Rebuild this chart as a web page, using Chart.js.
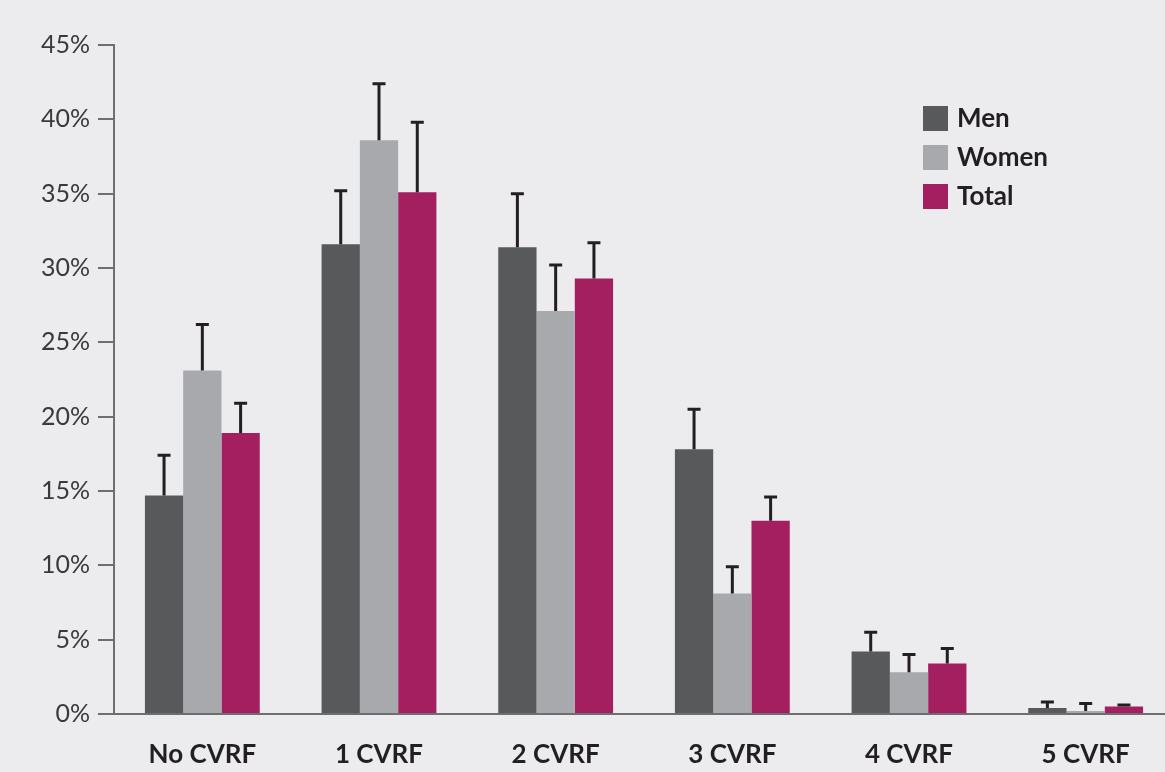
<!DOCTYPE html>
<html>
<head>
<meta charset="utf-8">
<script src="https://cdn.jsdelivr.net/npm/chart.js@4/dist/chart.umd.min.js"></script>
<style>
  html, body { margin: 0; padding: 0; background: #ececef; overflow: hidden; }
  #wrap { position: relative; width: 1174px; height: 772px; }
  #legend { position: absolute; left: 923px; top: 106px; font-family: Lato, sans-serif; font-weight: 700; font-size: 26px; color: #231f20; }
  #legend div { height: 39px; display: flex; align-items: flex-start; }
  #legend span.sw { display: inline-block; width: 25px; height: 25px; margin-right: 9px; }
  #legend span.tx { line-height: 25px; margin-top: -1px; }
</style>
</head>
<body>
<div id="wrap">
  <canvas id="cvrfChart" width="1174" height="772"></canvas>
  <div id="legend"></div>
</div>
<script>
// data
const categories = ['No CVRF', '1 CVRF', '2 CVRF', '3 CVRF', '4 CVRF', '5 CVRF'];
const menValues = [14.7, 31.6, 31.4, 17.8, 4.2, 0.4];
const womenValues = [23.1, 38.6, 27.1, 8.1, 2.8, 0.2];
const totalValues = [18.9, 35.1, 29.3, 13.0, 3.4, 0.5];
// upper end of the error bars
const menUpper = [17.4, 35.2, 35.0, 20.5, 5.5, 0.8];
const womenUpper = [26.2, 42.4, 30.2, 9.9, 4.0, 0.7];
const totalUpper = [20.9, 39.8, 31.7, 14.6, 4.4, 0.6];
const yTicks = [0, 5, 10, 15, 20, 25, 30, 35, 40, 45];

const colors = { men: '#58595b', women: '#a7a9ac', total: '#a31f5f' };

// legend
const legend = document.getElementById('legend');
[['Men', colors.men], ['Women', colors.women], ['Total', colors.total]].forEach(function(it) {
  const row = document.createElement('div');
  row.innerHTML = '<span class="sw" style="background:' + it[1] + '"></span><span class="tx">' + it[0] + '</span>';
  legend.appendChild(row);
});

// error bars drawn above each bar
const errorBars = {
  id: 'errorBars',
  afterDatasetsDraw(chart) {
    const ctx = chart.ctx;
    const y = chart.scales.y;
    ctx.save();
    ctx.strokeStyle = '#231f20';
    ctx.lineWidth = 3;
    chart.data.datasets.forEach(function(ds, i) {
      const meta = chart.getDatasetMeta(i);
      meta.data.forEach(function(bar, j) {
        const top = y.getPixelForValue(ds.upper[j]);
        ctx.beginPath();
        ctx.moveTo(bar.x, bar.y);
        ctx.lineTo(bar.x, top);
        ctx.moveTo(bar.x - 6.5, top);
        ctx.lineTo(bar.x + 6.5, top);
        ctx.stroke();
      });
    });
    ctx.restore();
  }
};

const ctx = document.getElementById('cvrfChart').getContext('2d');
const chart = new Chart(ctx, {
  type: 'bar',
  data: {
    labels: categories,
    datasets: [
      { label: 'Men', data: menValues, upper: menUpper, backgroundColor: colors.men },
      { label: 'Women', data: womenValues, upper: womenUpper, backgroundColor: colors.women },
      { label: 'Total', data: totalValues, upper: totalUpper, backgroundColor: colors.total }
    ]
  },
  options: {
    responsive: false,
    animation: false,
    devicePixelRatio: 1,
    layout: { padding: { top: 45, left: 0, right: 0, bottom: 0 } },
    datasets: { bar: { categoryPercentage: 0.65, barPercentage: 1 } },
    plugins: { legend: { display: false }, tooltip: { enabled: false } },
    scales: {
      x: {
        grid: { display: false },
        border: { display: true, color: '#6d6e71', width: 2 },
        ticks: { color: '#231f20', padding: 17, font: { family: 'Lato', weight: 'bold', size: 26 } },
        afterFit: function(s) { s.height = 58; }
      },
      y: {
        min: 0, max: 45,
        afterBuildTicks: function(s) { s.ticks = yTicks.map(function(v) { return { value: v }; }); },
        grid: { drawOnChartArea: false, tickLength: 16, color: '#6d6e71', lineWidth: 2 },
        border: { display: true, color: '#6d6e71', width: 2 },
        ticks: { color: '#3a3a3a', padding: 8, font: { family: 'Lato', size: 25 },
          callback: function(v) { return v + '%'; } },
        afterFit: function(s) { s.width = 114; }
      }
    }
  },
  plugins: [errorBars]
});
</script>
</body>
</html>
